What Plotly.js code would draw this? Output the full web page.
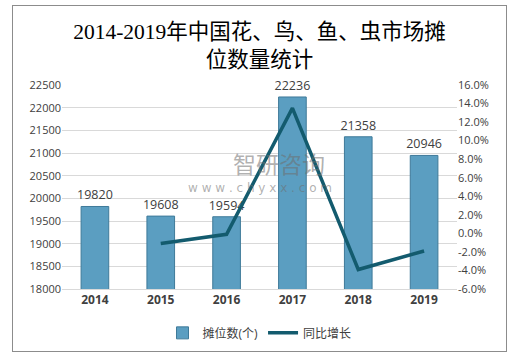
<!DOCTYPE html>
<html><head><meta charset="utf-8">
<script src="https://cdn.plot.ly/plotly-3.0.1.min.js"></script>
<style>
body{margin:0;padding:0;background:#fff;}
#chart{width:519px;height:359px;}
#frame{position:absolute;left:12px;top:5px;width:493px;height:345px;border:1.5px solid #8c8c8c;pointer-events:none;}
</style></head>
<body>
<div id="chart"></div>
<div id="frame"></div>
<script>
const years = ["2014","2015","2016","2017","2018","2019"];
const stalls = [19820, 19608, 19594, 22236, 21358, 20946];
const growthYears = ["2015","2016","2017","2018","2019"];
const growth = [-1.1, -0.1, 13.5, -3.9, -1.9];
const leftTicks = [18000,18500,19000,19500,20000,20500,21000,21500,22000,22500];
const rightTicks = [-6,-4,-2,0,2,4,6,8,10,12,14,16];

const txtFont = "Open Sans, Liberation Sans, Noto Sans CJK SC, sans-serif";

const traces = [
  {
    type: "bar", name: "摊位数(个)", x: years, y: stalls,
    text: stalls.map(String), textposition: "outside", cliponaxis: false, constraintext: "none",
    textfont: {family: txtFont, size: 12.5, color: "#404040"},
    marker: {color: "#5b9ec1", line: {color: "#3f7a99", width: 1}},
    width: 0.42
  },
  {
    type: "scatter", mode: "lines", name: "同比增长", x: growthYears, y: growth,
    yaxis: "y2", line: {color: "#135b6e", width: 3.5}
  }
];

const layout = {
  width: 519, height: 359,
  margin: {l: 62, r: 62, t: 85, b: 68},
  paper_bgcolor: "#fff", plot_bgcolor: "#fff",
  showlegend: true,
  legend: {orientation: "h", x: 0.5, xanchor: "center", y: -0.215, yanchor: "middle",
           font: {family: txtFont, size: 12, color: "#404040"}, traceorder: "normal"},
  title: {text: "2014-2019年中国花、鸟、鱼、虫市场摊<br>位数量统计",
          font: {family: "Liberation Serif, Noto Sans CJK SC, serif", size: 21.5, color: "#000"},
          x: 0.5, xanchor: "center", y: 0.89, yanchor: "middle"},
  xaxis: {type: "category", tickfont: {family: txtFont, size: 12, color: "#404040", weight: "bold"},
          showline: true, linecolor: "#d9d9d9", linewidth: 1, ticks: "", showgrid: false},
  yaxis: {range: [18000, 22500], tickvals: leftTicks, ticktext: leftTicks.map(String),
          tickfont: {family: txtFont, size: 11, color: "#404040"},
          showgrid: true, gridcolor: "#d9d9d9", zeroline: false, showline: false, ticks: ""},
  yaxis2: {overlaying: "y", side: "right", range: [-6, 16], tickvals: rightTicks,
           ticktext: rightTicks.map(v => v.toFixed(1) + "%"),
           tickfont: {family: txtFont, size: 11, color: "#404040"},
           showgrid: false, zeroline: false, showline: false, ticks: ""},
  annotations: [
    {xref: "paper", yref: "paper", x: 0.55, y: 0.62, text: "智研咨询", showarrow: false,
     font: {family: "Noto Sans CJK SC, sans-serif", size: 23, color: "rgba(110,110,110,0.55)"}},
    {xref: "paper", yref: "paper", x: 0.5, y: 0.495, text: "w w w . c h y x x . c o m", showarrow: false,
     font: {family: "DejaVu Sans, sans-serif", size: 12, color: "rgba(110,110,110,0.55)"}}
  ]
};

Plotly.newPlot("chart", traces, layout, {displayModeBar: false, staticPlot: true});
</script>
</body></html>
